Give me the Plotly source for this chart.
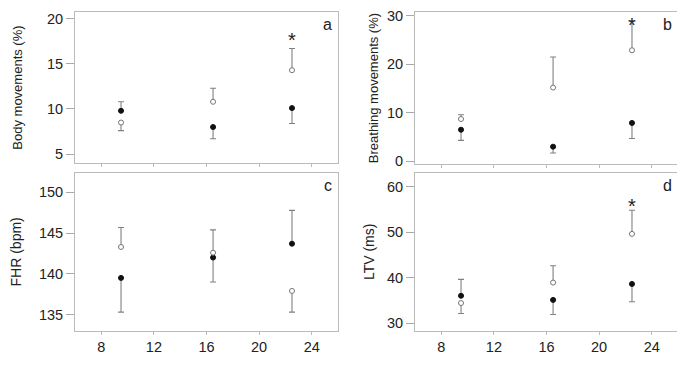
import plotly.graph_objects as go

weeks = [9.5, 16.5, 22.5]

# Panel a: Body movements (%)
body_filled = [9.8, 8.0, 10.1]
body_filled_err = [10.8, 6.7, 8.4]
body_open = [8.5, 10.8, 14.3]
body_open_err = [7.6, 12.3, 16.7]

# Panel b: Breathing movements (%)
breath_filled = [6.5, 3.0, 7.9]
breath_filled_err = [4.3, 1.7, 4.7]
breath_open = [8.7, 15.2, 22.9]
breath_open_err = [9.6, 21.5, 29.0]

# Panel c: FHR (bpm)
fhr_filled = [139.5, 142.0, 143.7]
fhr_filled_err = [135.3, 139.0, 147.8]
fhr_open = [143.3, 142.6, 137.9]
fhr_open_err = [145.7, 145.4, 135.3]

# Panel d: LTV (ms)
ltv_filled = [36.0, 35.1, 38.6]
ltv_filled_err = [39.6, 31.9, 34.7]
ltv_open = [34.4, 38.9, 49.6]
ltv_open_err = [32.1, 42.6, 54.8]

x_ticks = [8, 12, 16, 20, 24]

# page body has an 8px margin, so the figure is 8px smaller and pixel positions offset by 8
OFF = 8
W, H = 685 - OFF, 368 - OFF

def xd(a, b):
    return [(a - OFF) / W, (b - OFF) / W]

def yd(top, bottom):
    return [max(0.0, 1 - (bottom - OFF) / H), min(1.0, 1 - (top - OFF) / H)]

panels = [
    dict(ax="", filled=body_filled, ferr=body_filled_err, open_=body_open, oerr=body_open_err,
         title="Body movements (%)", tsize=13, standoff=21, yrange=[4.0, 20.75], ytick=[5, 10, 15, 20],
         letter="a", star=17.6, xd=xd(75, 338), yd=yd(8, 163), bottom=False),
    dict(ax="2", filled=breath_filled, ferr=breath_filled_err, open_=breath_open, oerr=breath_open_err,
         title="Breathing movements (%)", tsize=13, standoff=5, yrange=[-0.6, 30.8], ytick=[0, 10, 20, 30],
         letter="b", star="top", xd=xd(415, 678), yd=yd(8, 164), bottom=False),
    dict(ax="3", filled=fhr_filled, ferr=fhr_filled_err, open_=fhr_open, oerr=fhr_open_err,
         title="FHR (bpm)", tsize=14, standoff=13, yrange=[133.0, 152.4], ytick=[135, 140, 145, 150],
         letter="c", star=None, xd=xd(75, 338), yd=yd(173, 335), bottom=True),
    dict(ax="4", filled=ltv_filled, ferr=ltv_filled_err, open_=ltv_open, oerr=ltv_open_err,
         title="LTV (ms)", tsize=14, standoff=9, yrange=[28.3, 63.0], ytick=[30, 40, 50, 60],
         letter="d", star=55.8, xd=xd(415, 678), yd=yd(173, 335), bottom=True),
]

fig = go.Figure()
layout = {}
annotations = []

def err_arrays(vals, ends):
    up, down = [], []
    for v, e in zip(vals, ends):
        if e >= v:
            up.append(e - v); down.append(0)
        else:
            up.append(0); down.append(v - e)
    return up, down

FONT = "Liberation Sans, Arial"

for p in panels:
    ax = p["ax"]
    xref = "x" + ax
    yref = "y" + ax
    for vals, ends, is_open in [(p["filled"], p["ferr"], False), (p["open_"], p["oerr"], True)]:
        up, down = err_arrays(vals, ends)
        fig.add_trace(go.Scatter(
            x=weeks, y=vals, mode="markers", xaxis=xref, yaxis=yref, showlegend=False,
            marker=dict(size=5, symbol="circle",
                        color="white" if is_open else "#111111",
                        line=dict(color="#777777" if is_open else "#111111", width=1)),
            error_y=dict(type="data", symmetric=False, array=up, arrayminus=down,
                         color="#808080", thickness=1.1, width=3),
        ))
    xa = "xaxis" + ax
    ya = "yaxis" + ax
    layout[xa] = dict(domain=p["xd"], range=[6.0, 26.0], anchor=yref,
                      tickvals=x_ticks, ticktext=[str(t) for t in x_ticks],
                      showticklabels=p["bottom"], ticks="outside", ticklen=3,
                      tickcolor="#bbbbbb", showline=True, mirror=True, linecolor="#bbbbbb",
                      linewidth=1, showgrid=False, zeroline=False, ticklabeloverflow="allow",
                      tickfont=dict(family=FONT, size=14.5, color="#222222"))
    layout[ya] = dict(domain=p["yd"], range=p["yrange"], anchor=xref,
                      tickvals=p["ytick"], ticks="outside", ticklen=8, tickcolor="#aaaaaa",
                      showline=True, mirror=True, linecolor="#bbbbbb", linewidth=1,
                      showgrid=False, zeroline=False, ticklabeloverflow="allow",
                      tickfont=dict(family=FONT, size=14.5, color="#222222"),
                      title=dict(text=p["title"], standoff=p["standoff"],
                                 font=dict(family=FONT, size=p["tsize"], color="#222222")))
    annotations.append(dict(text=p["letter"], xref=xref + " domain", yref=yref + " domain",
                            x=0.985, y=0.985, xanchor="right", yanchor="top", showarrow=False,
                            font=dict(family=FONT, size=16, color="#222222")))
    if p["star"] == "top":
        annotations.append(dict(text="*", xref=xref, yref=yref + " domain", x=weeks[2], y=1.0,
                                yanchor="top", showarrow=False,
                                font=dict(family=FONT, size=20, color="#222222")))
    elif p["star"] is not None:
        annotations.append(dict(text="*", xref=xref, yref=yref, x=weeks[2], y=p["star"],
                                showarrow=False, font=dict(family=FONT, size=20, color="#222222")))

fig.update_layout(width=W, height=H, margin=dict(l=0, r=0, t=0, b=0),
                  paper_bgcolor="white", plot_bgcolor="white",
                  annotations=annotations, **layout)

fig.write_html("out.html")
